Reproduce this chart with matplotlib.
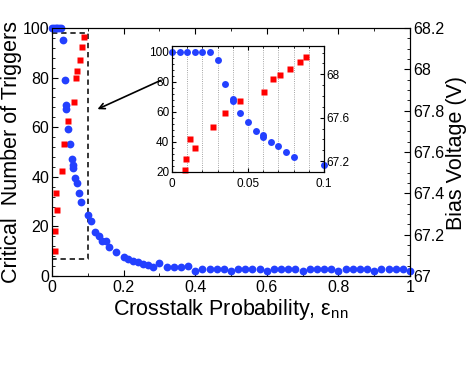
import matplotlib
matplotlib.use('Agg')
import matplotlib.pyplot as plt
import numpy as np
from matplotlib.ticker import MultipleLocator, FuncFormatter

plt.rcParams['font.family'] = ['Liberation Sans', 'DejaVu Sans']

# critical number of triggers vs crosstalk probability (blue, left axis)
eps_trig = [0, .005, .01, .015, .02, .025, .03, .035, .04, .04, .045, .05, .055,
            .06, .06, .065, .07, .075, .08, .1, .11, .12, .13, .14, .15, .16,
            .18, .2, .213, .225, .241, .255, .269, .283, .3, .32, .34, .36, .38]
n_trig = [100, 100, 100, 100, 100, 100, 95, 79, 69, 67.4, 59.2, 53.3, 47.3,
          44.6, 43.5, 39.7, 37.5, 33.5, 29.8, 24.5, 22, 17.9, 16, 14.2, 14, 11.8,
          9.8, 7.8, 6.7, 6.2, 5.5, 4.8, 4.4, 3.8, 5.1, 3.8, 3.8, 3.8, 4]
eps_tail = [round(0.4 + 0.02 * i, 2) for i in range(31)]
n_tail = [2 if round(e * 10, 6) == int(round(e * 10, 6)) else 3 for e in eps_tail]
eps_trig = eps_trig + eps_tail
n_trig = n_trig + n_tail

# bias voltage vs crosstalk probability (red, right axis)
eps_bias = [0.0088, 0.0093, 0.0119, 0.015, 0.0267, 0.0349, 0.0448, 0.0603,
            0.0662, 0.0709, 0.0775, 0.0845, 0.0881]
v_bias = [67.12, 67.22, 67.40, 67.32, 67.51, 67.64, 67.75, 67.84,
          67.96, 67.99, 68.045, 68.11, 68.155]

zoom_box_x = [0, 0.1]
zoom_box_y = [7, 98]

blue = '#2340ff'
red = '#ff0000'

fig = plt.figure(figsize=(4.69, 3.70), dpi=100)

def fmt(v, pos):
    return '%g' % round(v, 4)

# main axes
ax = fig.add_axes([52/469, 1-276/370, 358/469, 248/370])
ax.plot(eps_trig, n_trig, 'o', color=blue, ms=5.6, mec='none', clip_on=False, zorder=3)
ax.plot([zoom_box_x[0], zoom_box_x[1], zoom_box_x[1], zoom_box_x[0], zoom_box_x[0]],
        [zoom_box_y[1], zoom_box_y[1], zoom_box_y[0], zoom_box_y[0], zoom_box_y[1]],
        'k--', lw=1.1, dashes=(3.5, 2.5))
ax.set_xlim(0, 1)
ax.set_ylim(0, 100)
ax.xaxis.set_major_locator(MultipleLocator(0.2))
ax.xaxis.set_minor_locator(MultipleLocator(0.1))
ax.yaxis.set_major_locator(MultipleLocator(20))
ax.yaxis.set_minor_locator(MultipleLocator(4))
ax.xaxis.set_major_formatter(FuncFormatter(fmt))
ax.tick_params(which='both', direction='in', top=True, labelsize=11.5)
ax.tick_params(axis='x', pad=3)
ax.tick_params(axis='y', pad=2)
ax.tick_params(which='major', length=4)
ax.tick_params(which='minor', length=2)
ax.annotate('', xy=(0.12, 66.8), xytext=(0.31, 79.3),
            arrowprops=dict(arrowstyle='->', lw=1.2, color='k'))

ax2 = ax.twinx()
ax2.plot(eps_bias, v_bias, 's', color=red, ms=5, mec='none', clip_on=False)
ax2.set_ylim(67, 68.2)
ax2.yaxis.set_major_locator(MultipleLocator(0.2))
ax2.yaxis.set_minor_locator(MultipleLocator(0.05))
ax2.yaxis.set_major_formatter(FuncFormatter(fmt))
ax2.tick_params(which='both', direction='in', labelsize=11.5, pad=2)
ax2.tick_params(which='major', length=4)
ax2.tick_params(which='minor', length=2)

fig.text(12/469, 1-152/370, 'Critical  Number of Triggers', rotation=90,
         ha='center', va='center', fontsize=15.5)
fig.text(231/469, 1-315/370, 'Crosstalk Probability, ε$_{\\mathregular{nn}}$',
         ha='center', va='baseline', fontsize=15.5)
fig.text(456/469, 1-153/370, 'Bias Voltage (V)', rotation=90,
         ha='center', va='center', fontsize=15.5)

# inset: only the points inside the zoomed range
ins_x = [e for e in eps_trig if e <= 0.1]
ins_y = [n for e, n in zip(eps_trig, n_trig) if e <= 0.1]

ins = fig.add_axes([172/469, 1-172/370, 152/469, 126/370])
ins.plot(ins_x, ins_y, 'o', color=blue, ms=5, mec='none', clip_on=False, zorder=3)
ins.set_xlim(0, 0.1)
ins.set_ylim(20, 104)
ins.xaxis.set_major_locator(MultipleLocator(0.05))
ins.xaxis.set_minor_locator(MultipleLocator(0.01))
ins.yaxis.set_major_locator(MultipleLocator(20))
ins.yaxis.set_minor_locator(MultipleLocator(4))
ins.xaxis.set_major_formatter(FuncFormatter(fmt))
ins.grid(axis='x', which='both', color='#888888', ls=':', lw=0.6)
ins.tick_params(which='both', direction='in', top=True, labelsize=8.5, pad=2)
ins.tick_params(axis='x', pad=4)
ins.tick_params(which='major', length=3)
ins.tick_params(which='minor', length=1.5)

ins2 = ins.twinx()
ins2.plot(eps_bias, v_bias, 's', color=red, ms=4.5, mec='none', clip_on=False)
ins2.set_ylim(67.1, 68.26)
ins2.yaxis.set_major_locator(MultipleLocator(0.4))
ins2.yaxis.set_minor_locator(MultipleLocator(0.1))
ins2.yaxis.set_major_formatter(FuncFormatter(fmt))
ins2.tick_params(which='both', direction='in', labelsize=8.5, pad=2)
ins2.tick_params(which='major', length=3)
ins2.tick_params(which='minor', length=1.5)

fig.savefig('out.png', dpi=100)
